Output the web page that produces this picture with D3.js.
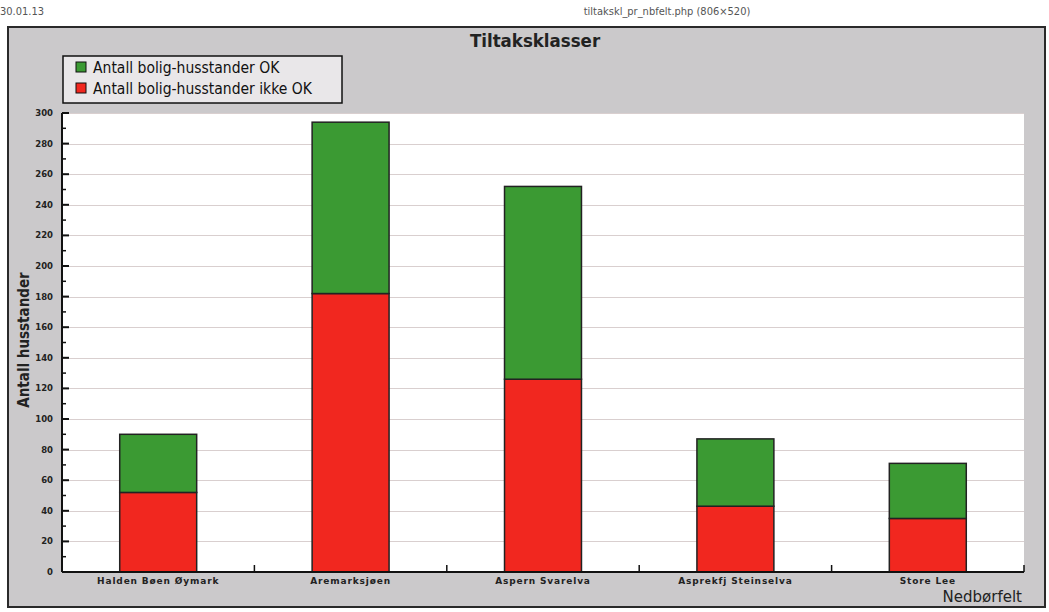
<!DOCTYPE html>
<html>
<head>
<meta charset="utf-8">
<script src="https://cdn.jsdelivr.net/npm/d3@7"></script>
<style>
  html, body { margin: 0; padding: 0; background: #fff; }
  svg { display: block; }
</style>
</head>
<body>
<svg id="chart" width="1049" height="612"></svg>
<script>
// Nedbørfelt (catchments) and household counts per tiltaksklasse
const categories = ["Halden Bøen Øymark", "Aremarksjøen", "Aspern Svarelva", "Asprekfj Steinselva", "Store Lee"];
const ikkeOk = [52, 182, 126, 43, 35];   // Antall bolig-husstander ikke OK
const ok = [38, 112, 126, 44, 36];       // Antall bolig-husstander OK
const yTicks = [0, 20, 40, 60, 80, 100, 120, 140, 160, 180, 200, 220, 240, 260, 280, 300];
const seriesNames = ["Antall bolig-husstander OK", "Antall bolig-husstander ikke OK"];
const colors = { ok: "#3b9a33", ikke: "#f1271f" };

const svg = d3.select("#chart");

// page header
svg.append("text").attr("x", 0).attr("y", 15)
  .attr("font-family", "Liberation Sans Narrow, DejaVu Sans Condensed, sans-serif")
  .attr("font-size", 11).attr("fill", "#555").text("30.01.13");
svg.append("text").attr("x", 667).attr("y", 15).attr("text-anchor", "middle")
  .attr("font-family", "Liberation Sans Narrow, DejaVu Sans Condensed, sans-serif")
  .attr("font-size", 11).attr("fill", "#555").text("tiltakskl_pr_nbfelt.php (806×520)");

// outer panel
svg.append("rect").attr("x", 8).attr("y", 27).attr("width", 1037).attr("height", 580)
  .attr("fill", "#cbc9cb").attr("stroke", "#2a2a2a").attr("stroke-width", 2);

// title
svg.append("text").attr("x", 535).attr("y", 47).attr("text-anchor", "middle")
  .attr("font-family", "DejaVu Sans Condensed, sans-serif").attr("font-size", 18.5)
  .attr("font-weight", "bold").attr("fill", "#222").text("Tiltaksklasser");

const margin = { left: 62, right: 1024, top: 113, bottom: 572 };

const x = d3.scaleBand().domain(categories)
  .range([margin.left, margin.right]).paddingInner(0.6).paddingOuter(0.3);
const y = d3.scaleLinear().domain([0, 300]).range([margin.bottom, margin.top]);

// plot area
svg.append("rect").attr("x", margin.left).attr("y", margin.top)
  .attr("width", margin.right - margin.left).attr("height", margin.bottom - margin.top)
  .attr("fill", "#ffffff");

// gridlines
svg.append("g").selectAll("line").data(yTicks.filter(d => d > 0)).join("line")
  .attr("x1", margin.left).attr("x2", margin.right)
  .attr("y1", d => Math.round(y(d)) + 0.5).attr("y2", d => Math.round(y(d)) + 0.5)
  .attr("stroke", "#d9cfcf").attr("stroke-width", 1);

// stacked bars
const data = categories.map((c, i) => ({ cat: c, ikke: ikkeOk[i], ok: ok[i] }));
const stack = d3.stack().keys(["ikke", "ok"])(data);
svg.append("g").selectAll("g").data(stack).join("g")
  .attr("fill", d => colors[d.key])
  .selectAll("rect").data(d => d).join("rect")
  .attr("x", d => x(d.data.cat))
  .attr("width", x.bandwidth())
  .attr("y", d => y(d[1]))
  .attr("height", d => y(d[0]) - y(d[1]))
  .attr("stroke", "#222").attr("stroke-width", 1.5);

// y axis: inward major/minor ticks
const yAxisG = svg.append("g");
yAxisG.append("line").attr("x1", margin.left).attr("x2", margin.left)
  .attr("y1", margin.top).attr("y2", margin.bottom).attr("stroke", "#111").attr("stroke-width", 2);
const minor = d3.range(10, 300, 20);
yAxisG.selectAll("line.minor").data(minor).join("line").attr("class", "minor")
  .attr("x1", margin.left).attr("x2", margin.left + 4)
  .attr("y1", d => y(d)).attr("y2", d => y(d)).attr("stroke", "#111").attr("stroke-width", 1.5);
yAxisG.selectAll("line.major").data(yTicks).join("line").attr("class", "major")
  .attr("x1", margin.left).attr("x2", margin.left + 7)
  .attr("y1", d => y(d)).attr("y2", d => y(d)).attr("stroke", "#111").attr("stroke-width", 2);
yAxisG.selectAll("text").data(yTicks).join("text")
  .attr("x", margin.left - 9).attr("y", d => y(d) + 3).attr("text-anchor", "end")
  .attr("font-family", "DejaVu Sans, sans-serif").attr("font-weight", "bold")
  .attr("font-size", 8.5).attr("fill", "#222").text(d => d);

// x axis with ticks on the category boundaries
const xAxisG = svg.append("g");
xAxisG.append("line").attr("x1", margin.left).attr("x2", margin.right)
  .attr("y1", margin.bottom).attr("y2", margin.bottom).attr("stroke", "#111").attr("stroke-width", 2);
const step = x.step();
xAxisG.selectAll("line.tick").data(categories).join("line").attr("class", "tick")
  .attr("x1", d => x(d) + x.bandwidth() / 2 + step / 2)
  .attr("x2", d => x(d) + x.bandwidth() / 2 + step / 2)
  .attr("y1", margin.bottom).attr("y2", margin.bottom - 7)
  .attr("stroke", "#111").attr("stroke-width", 1.5);
xAxisG.selectAll("text").data(categories).join("text")
  .attr("x", d => x(d) + x.bandwidth() / 2).attr("y", margin.bottom + 12)
  .attr("text-anchor", "middle")
  .attr("font-family", "DejaVu Sans, sans-serif").attr("font-weight", "bold")
  .attr("font-size", 9).attr("letter-spacing", 0.85).attr("fill", "#222").text(d => d);

// axis titles
svg.append("text").attr("x", 1022).attr("y", 602).attr("text-anchor", "end")
  .attr("font-family", "DejaVu Sans, sans-serif").attr("font-size", 15)
  .attr("fill", "#222").text("Nedbørfelt");
svg.append("text").attr("transform", "translate(29,340) rotate(-90)").attr("text-anchor", "middle")
  .attr("font-family", "DejaVu Sans Condensed, sans-serif").attr("font-weight", "bold")
  .attr("font-size", 15).attr("fill", "#222").text("Antall husstander");

// legend
const lg = svg.append("g");
lg.append("rect").attr("x", 63).attr("y", 56).attr("width", 279).attr("height", 47)
  .attr("fill", "#e9e7e9").attr("stroke", "#111").attr("stroke-width", 1.5);
const legendItems = [{ name: seriesNames[0], color: colors.ok }, { name: seriesNames[1], color: colors.ikke }];
lg.selectAll("rect.sw").data(legendItems).join("rect").attr("class", "sw")
  .attr("x", 76).attr("y", (d, i) => 62 + i * 21).attr("width", 10).attr("height", 10)
  .attr("fill", d => d.color).attr("stroke", "#111").attr("stroke-width", 1);
lg.selectAll("text").data(legendItems).join("text")
  .attr("x", 93).attr("y", (d, i) => 73 + i * 21)
  .attr("font-family", "DejaVu Sans Condensed, sans-serif").attr("font-size", 15.5)
  .attr("fill", "#111").text(d => d.name);
</script>
</body>
</html>
